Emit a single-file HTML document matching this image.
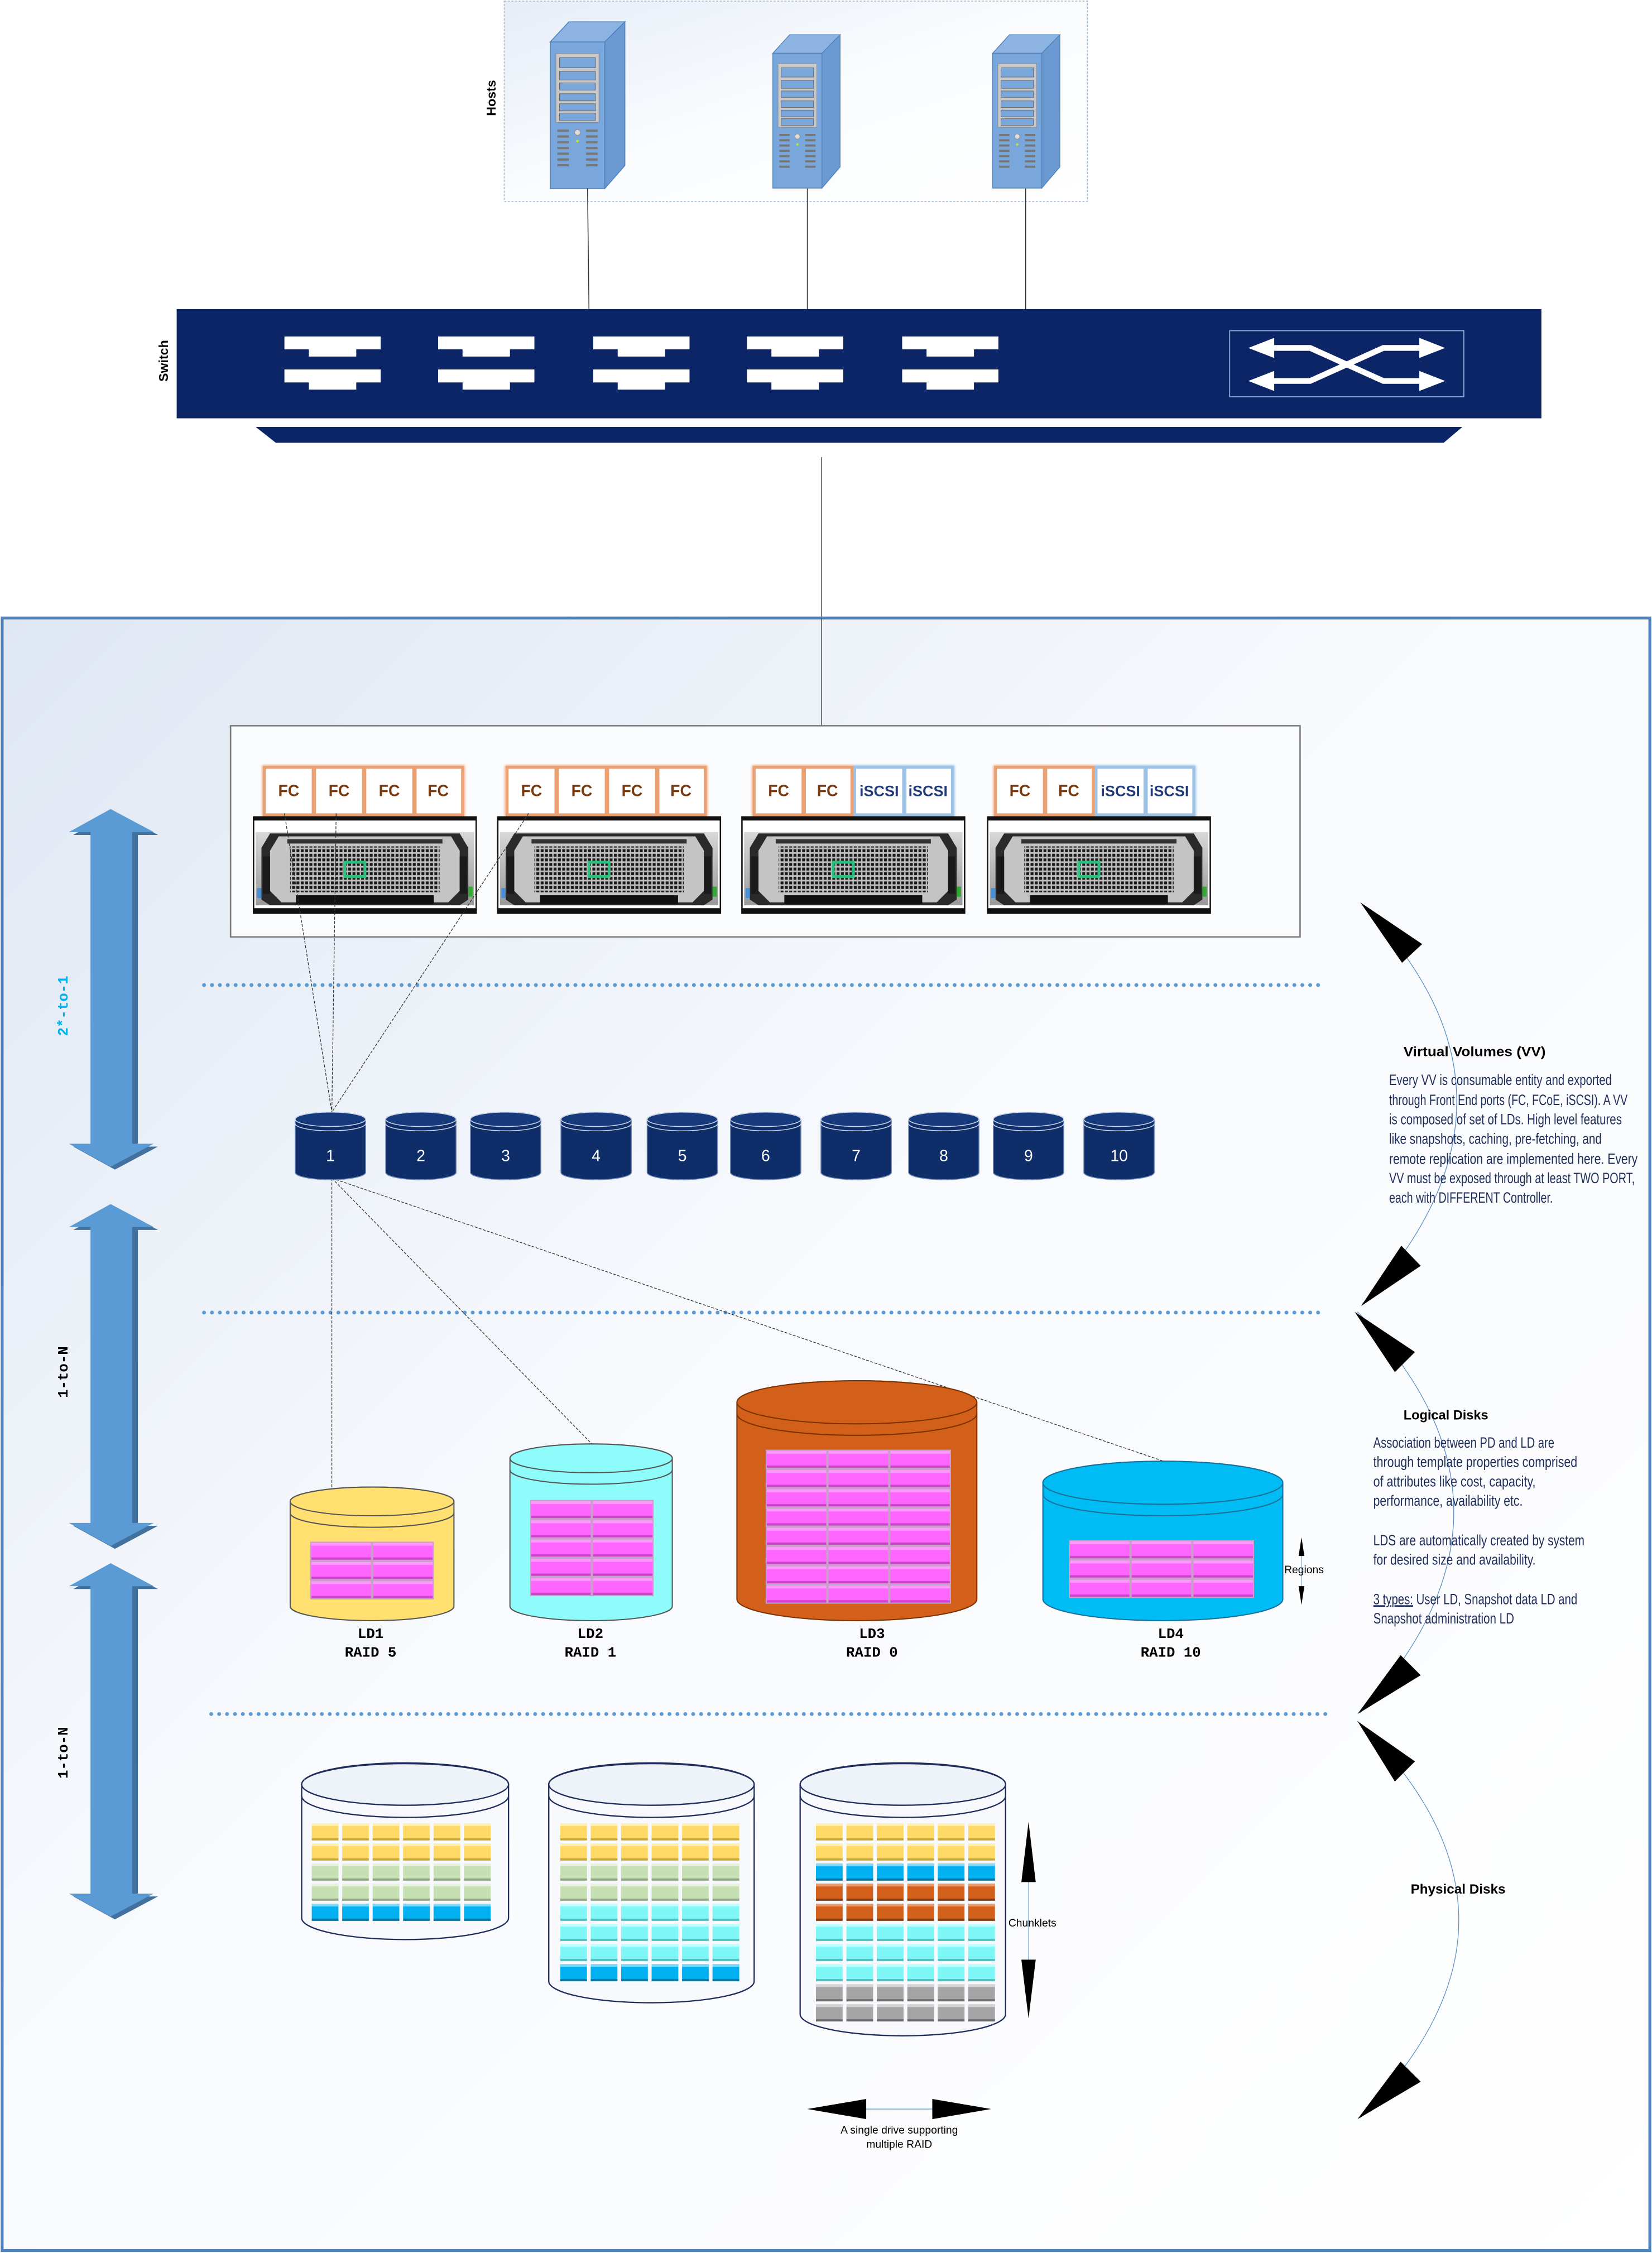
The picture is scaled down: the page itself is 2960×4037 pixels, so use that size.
<!DOCTYPE html>
<html><head><meta charset="utf-8"><style>
html,body{margin:0;padding:0;background:#fff;}
svg{display:block;}
.n{font-family:"Liberation Sans Narrow","Liberation Sans",sans-serif;}
.m{font-family:"Liberation Mono",monospace;font-weight:bold;}
.b{font-family:"Liberation Sans",sans-serif;font-weight:bold;}
</style></head><body>
<svg width="2960" height="4037" viewBox="0 0 1150 1568" xmlns="http://www.w3.org/2000/svg">
<defs>
<linearGradient id="bg" x1="0" y1="0" x2="1" y2="1"><stop offset="0" stop-color="#dfe7f3"/><stop offset="0.45" stop-color="#f8fafd"/><stop offset="1" stop-color="#ffffff"/></linearGradient>
<linearGradient id="hbg" x1="0" y1="0" x2="1" y2="1"><stop offset="0" stop-color="#e6edf7"/><stop offset="0.5" stop-color="#fafcfe"/><stop offset="1" stop-color="#fff"/></linearGradient>
<linearGradient id="metal" x1="0" y1="0" x2="0" y2="1"><stop offset="0" stop-color="#d8d8d8"/><stop offset="0.5" stop-color="#b8b8b8"/><stop offset="1" stop-color="#9a9a9a"/></linearGradient>
<pattern id="holes" patternUnits="userSpaceOnUse" width="3" height="3.2"><rect width="3" height="3.2" fill="#bdbdbd"/><rect x="0.4" y="0.6" width="2" height="2" fill="#1a1a1a"/></pattern>
<g id="tower">
<polygon points="0,14 13,0 52,0 38,14" fill="#8db3e2" stroke="#4f81bd" stroke-width="0.6"/>
<polygon points="38,14 52,0 52,100 38,116" fill="#6b9ad2" stroke="#4f81bd" stroke-width="0.6"/>
<rect x="0" y="14" width="38" height="102" fill="#79a7dc" stroke="#4f81bd" stroke-width="0.6"/>
<rect x="4" y="22" width="30" height="48" fill="#c9c9c9" stroke="#888" stroke-width="0.4"/>
<rect x="6.5" y="25" width="25" height="7" fill="#79a7dc" stroke="#666" stroke-width="0.4"/>
<rect x="6.5" y="34.5" width="25" height="6" fill="#79a7dc" stroke="#666" stroke-width="0.4"/>
<rect x="6.5" y="42.5" width="25" height="5" fill="#79a7dc" stroke="#666" stroke-width="0.4"/>
<rect x="6.5" y="50" width="25" height="5" fill="#79a7dc" stroke="#666" stroke-width="0.4"/>
<rect x="6.5" y="57" width="25" height="5" fill="#79a7dc" stroke="#666" stroke-width="0.4"/>
<rect x="6.5" y="63.5" width="25" height="5" fill="#79a7dc" stroke="#666" stroke-width="0.4"/>
<g fill="#777"><rect x="5" y="75" width="8" height="1.6"/><rect x="5" y="79" width="8" height="1.6"/><rect x="5" y="83" width="8" height="1.6"/><rect x="5" y="87" width="8" height="1.6"/><rect x="5" y="91" width="8" height="1.6"/><rect x="5" y="95" width="8" height="1.6"/><rect x="5" y="99" width="8" height="1.6"/>
<rect x="25" y="75" width="8" height="1.6"/><rect x="25" y="79" width="8" height="1.6"/><rect x="25" y="83" width="8" height="1.6"/><rect x="25" y="87" width="8" height="1.6"/><rect x="25" y="91" width="8" height="1.6"/><rect x="25" y="95" width="8" height="1.6"/><rect x="25" y="99" width="8" height="1.6"/></g>
<circle cx="19" cy="77" r="2" fill="#ddd" stroke="#888" stroke-width="0.4"/><circle cx="19" cy="83" r="1" fill="#b6e33b"/>
</g>
<g id="chassis">
<rect x="0" y="0" width="156" height="68" fill="#111"/>
<rect x="1" y="3" width="154" height="61" fill="#fff"/>
<rect x="2" y="11" width="152" height="51" fill="url(#metal)"/>
<path d="M12 12 H144 L150 22 V58 L144 62 H12 L6 58 V22 Z" fill="#2a2a2a"/>
<path d="M18 14 H138 L144 24 V52 L136 60 H20 L12 52 V24 Z" fill="#c4c4c4"/>
<rect x="24" y="16" width="108" height="3" fill="#333"/>
<rect x="26" y="21" width="104" height="32" fill="url(#holes)"/>
<rect x="64" y="32" width="14" height="10" fill="none" stroke="#2fbf7f" stroke-width="2"/>
<rect x="7" y="28" width="5" height="26" fill="#1a1a1a"/><rect x="144" y="28" width="5" height="26" fill="#1a1a1a"/>
<rect x="3" y="50" width="3" height="7" fill="#4a8fd8"/><rect x="150" y="49" width="3" height="7" fill="#3a3"/>
<rect x="30" y="55" width="96" height="6" fill="#111"/>
</g>
<g id="vvc">
<path d="M-24.5 5 A24.5 5 0 0 1 24.5 5 V42 A24.5 5 0 0 1 -24.5 42 Z" fill="#0f2d69" stroke="#6d86b3" stroke-width="0.6"/>
<ellipse cx="0" cy="5" rx="24.5" ry="5" fill="#163a7c" stroke="#c9d3e6" stroke-width="0.6"/>
<path d="M-24.5 8 A24.5 5 0 0 0 24.5 8" fill="none" stroke="#c9d3e6" stroke-width="0.6"/>
</g>
<pattern id="mag" patternUnits="userSpaceOnUse" width="43" height="13.4"><rect width="43" height="13.4" fill="#c8a0c8"/><rect x="0.8" y="0.8" width="41.4" height="11.8" fill="#ff66ff"/><rect x="0.8" y="0.8" width="41.4" height="2" fill="#ff99ff"/><rect x="0.8" y="11" width="41.4" height="1.6" fill="#cc44cc"/></pattern>
<pattern id="cy" patternUnits="userSpaceOnUse" width="21.2" height="14"><rect x="0" y="0" width="18.6" height="12" fill="#ffd966"/><rect x="0" y="0" width="18.6" height="2" fill="#fff0b0"/><rect x="0" y="10.5" width="18.6" height="1.5" fill="#c9a83a"/></pattern>
<pattern id="cg" patternUnits="userSpaceOnUse" width="21.2" height="14"><rect x="0" y="0" width="18.6" height="12" fill="#c6e0b4"/><rect x="0" y="0" width="18.6" height="2" fill="#e6f2dc"/><rect x="0" y="10.5" width="18.6" height="1.5" fill="#8fa87f"/></pattern>
<pattern id="cb" patternUnits="userSpaceOnUse" width="21.2" height="14"><rect x="0" y="0" width="18.6" height="12" fill="#00b0f0"/><rect x="0" y="0" width="18.6" height="2" fill="#7fd8f8"/><rect x="0" y="10.5" width="18.6" height="1.5" fill="#0079a8"/></pattern>
<pattern id="cc" patternUnits="userSpaceOnUse" width="21.2" height="14"><rect x="0" y="0" width="18.6" height="12" fill="#7ff7f7"/><rect x="0" y="0" width="18.6" height="2" fill="#c0ffff"/><rect x="0" y="10.5" width="18.6" height="1.5" fill="#4cc0c0"/></pattern>
<pattern id="co" patternUnits="userSpaceOnUse" width="21.2" height="14"><rect x="0" y="0" width="18.6" height="12" fill="#d2601a"/><rect x="0" y="0" width="18.6" height="2" fill="#e89a6a"/><rect x="0" y="10.5" width="18.6" height="1.5" fill="#8d3e0e"/></pattern>
<pattern id="cgr" patternUnits="userSpaceOnUse" width="21.2" height="14"><rect x="0" y="0" width="18.6" height="12" fill="#a5a5a5"/><rect x="0" y="0" width="18.6" height="2" fill="#d5d5d5"/><rect x="0" y="10.5" width="18.6" height="1.5" fill="#6e6e6e"/></pattern>
<filter id="glow" x="-20%" y="-20%" width="140%" height="140%"><feGaussianBlur stdDeviation="0.8"/></filter>
</defs>

<!-- Hosts -->
<rect x="351" y="0.5" width="406" height="139.5" fill="url(#hbg)" stroke="#9fb5d0" stroke-width="0.6" stroke-dasharray="1.5 1"/>
<text class="b" x="0" y="0" font-size="9" transform="translate(345,68) rotate(-90)" text-anchor="middle">Hosts</text>
<use href="#tower" transform="translate(383,15)"/>
<use href="#tower" transform="translate(538,24) scale(0.9,0.92)"/>
<use href="#tower" transform="translate(691,24) scale(0.9,0.92)"/>
<g stroke="#333" stroke-width="0.6"><line x1="409" y1="131" x2="410" y2="215"/><line x1="562" y1="131" x2="562" y2="215"/><line x1="714" y1="131" x2="714" y2="215"/></g>

<!-- Switch -->
<rect x="123" y="215" width="950" height="76" fill="#0c2566"/>
<polygon points="178,297 1018,297 1005,308 192,308" fill="#0c2566"/>
<text class="b" x="0" y="0" font-size="9" transform="translate(117,251) rotate(-90)" text-anchor="middle">Switch</text>
<g fill="#fff">
<path d="M198 234 H265 V243 H248 V248 H215 V243 H198 Z"/><path d="M198 257 H265 V266 H248 V271 H215 V266 H198 Z"/>
<path d="M305 234 H372 V243 H355 V248 H322 V243 H305 Z"/><path d="M305 257 H372 V266 H355 V271 H322 V266 H305 Z"/>
<path d="M413 234 H480 V243 H463 V248 H430 V243 H413 Z"/><path d="M413 257 H480 V266 H463 V271 H430 V266 H413 Z"/>
<path d="M520 234 H587 V243 H570 V248 H537 V243 H520 Z"/><path d="M520 257 H587 V266 H570 V271 H537 V266 H520 Z"/>
<path d="M628 234 H695 V243 H678 V248 H645 V243 H628 Z"/><path d="M628 257 H695 V266 H678 V271 H645 V266 H628 Z"/>
</g>
<rect x="856" y="230" width="163" height="46" fill="none" stroke="#8ea9db" stroke-width="0.7"/>
<g stroke="#fff" stroke-width="4" fill="none"><path d="M885 242 H912 L963 265 H990"/><path d="M885 265 H912 L963 242 H990"/></g>
<g fill="#fff"><polygon points="869,242 887,235 887,249"/><polygon points="869,265 887,258 887,272"/><polygon points="1006,242 988,235 988,249"/><polygon points="1006,265 988,258 988,272"/></g>
<line x1="572" y1="318" x2="572" y2="505" stroke="#444" stroke-width="0.6"/>

<!-- Big box -->
<rect x="1.5" y="430" width="1147" height="1136.5" fill="url(#bg)" stroke="#4f81bd" stroke-width="2"/>
<line x1="572" y1="430" x2="572" y2="505" stroke="#444" stroke-width="0.6"/>

<!-- Controller box -->
<rect x="160.5" y="505" width="744.5" height="147" fill="#fbfcfe" stroke="#7a7a7a" stroke-width="1"/>
<g filter="url(#glow)" fill="none" stroke-width="3">
<g stroke="#f0a878"><rect x="184" y="534" width="138" height="33"/><rect x="353" y="534" width="138" height="33"/><rect x="525" y="534" width="68" height="33"/><rect x="693" y="534" width="68" height="33"/></g>
<g stroke="#9dc3e6"><rect x="595" y="534" width="68" height="33"/><rect x="763" y="534" width="68" height="33"/></g>
</g>
<g fill="#fff" stroke-width="2">
<g stroke="#eaa070"><rect x="184" y="534" width="34" height="33"/><rect x="219" y="534" width="34" height="33"/><rect x="254" y="534" width="34" height="33"/><rect x="289" y="534" width="33" height="33"/>
<rect x="353" y="534" width="34" height="33"/><rect x="388" y="534" width="34" height="33"/><rect x="423" y="534" width="34" height="33"/><rect x="458" y="534" width="33" height="33"/>
<rect x="525" y="534" width="34" height="33"/><rect x="560" y="534" width="33" height="33"/>
<rect x="693" y="534" width="34" height="33"/><rect x="728" y="534" width="33" height="33"/></g>
<g stroke="#9dc3e6"><rect x="595" y="534" width="34" height="33"/><rect x="630" y="534" width="33" height="33"/><rect x="763" y="534" width="34" height="33"/><rect x="798" y="534" width="33" height="33"/></g>
</g>
<g class="n" font-size="11" font-weight="bold" text-anchor="middle" fill="#7a3a10">
<text x="201" y="554">FC</text><text x="236" y="554">FC</text><text x="271" y="554">FC</text><text x="305" y="554">FC</text>
<text x="370" y="554">FC</text><text x="405" y="554">FC</text><text x="440" y="554">FC</text><text x="474" y="554">FC</text>
<text x="542" y="554">FC</text><text x="576" y="554">FC</text><text x="710" y="554">FC</text><text x="744" y="554">FC</text>
</g>
<g class="n" font-size="10.5" font-weight="bold" text-anchor="middle" fill="#1f3c78">
<text x="612" y="554">iSCSI</text><text x="646" y="554">iSCSI</text><text x="780" y="554">iSCSI</text><text x="814" y="554">iSCSI</text>
</g>
<use href="#chassis" transform="translate(176,568)"/>
<use href="#chassis" transform="translate(346,568)"/>
<use href="#chassis" transform="translate(516,568)"/>
<use href="#chassis" transform="translate(687,568)"/>

<!-- dotted separators -->
<g stroke="#5b9bd5" stroke-width="2.6" stroke-linecap="round" stroke-dasharray="0.1 5.4">
<line x1="142" y1="685.5" x2="920" y2="685.5"/><line x1="142" y1="913.5" x2="920" y2="913.5"/><line x1="147" y1="1193" x2="925" y2="1193"/>
</g>

<!-- connector lines -->
<g stroke="#333" stroke-width="0.5" stroke-dasharray="2 1" fill="none">
<line x1="198" y1="566" x2="231" y2="774"/><line x1="234" y1="566" x2="231" y2="774"/><line x1="368" y1="566" x2="231" y2="774"/>
<line x1="231" y1="820" x2="231" y2="1036"/><line x1="231" y1="820" x2="412" y2="1005"/><line x1="231" y1="820" x2="810" y2="1017"/>
</g>

<!-- VV cylinders -->
<use href="#vvc" transform="translate(230,774)"/><use href="#vvc" transform="translate(293,774)"/><use href="#vvc" transform="translate(352,774)"/><use href="#vvc" transform="translate(415,774)"/><use href="#vvc" transform="translate(475,774)"/>
<use href="#vvc" transform="translate(533,774)"/><use href="#vvc" transform="translate(596,774)"/><use href="#vvc" transform="translate(657,774)"/><use href="#vvc" transform="translate(716,774)"/><use href="#vvc" transform="translate(779,774)"/>
<g class="n" font-size="11" fill="#fff" text-anchor="middle">
<text x="230" y="808">1</text><text x="293" y="808">2</text><text x="352" y="808">3</text><text x="415" y="808">4</text><text x="475" y="808">5</text>
<text x="533" y="808">6</text><text x="596" y="808">7</text><text x="657" y="808">8</text><text x="716" y="808">9</text><text x="779" y="808">10</text>
</g>

<!-- Left big arrows -->
<g>
<polygon points="80,565 110,581 96,581 96,798 110,798 80,814 51,798 66,798 66,581 51,581" fill="#41719c"/>
<polygon points="77,563 107,579 92,579 92,796 107,796 77,812 48,796 63,796 63,579 48,579" fill="#5b9bd5"/>
<polygon points="80,840 110,856 96,856 96,1062 110,1062 80,1078 51,1062 66,1062 66,856 51,856" fill="#41719c"/>
<polygon points="77,838 107,854 92,854 92,1060 107,1060 77,1076 48,1060 63,1060 63,854 48,854" fill="#5b9bd5"/>
<polygon points="80,1090 110,1106 96,1106 96,1320 110,1320 80,1336 51,1320 66,1320 66,1106 51,1106" fill="#41719c"/>
<polygon points="77,1088 107,1104 92,1104 92,1318 107,1318 77,1334 48,1318 63,1318 63,1104 48,1104" fill="#5b9bd5"/>
</g>
<text class="m" font-size="10" fill="#00b0f0" text-anchor="middle" transform="translate(47,700) rotate(-90)">2*-to-1</text>
<text class="m" font-size="10" fill="#000" text-anchor="middle" transform="translate(47,955) rotate(-90)">1-to-N</text>
<text class="m" font-size="10" fill="#000" text-anchor="middle" transform="translate(47,1220) rotate(-90)">1-to-N</text>

<!-- Logical disks -->
<g stroke="#555" stroke-width="0.8">
<path d="M202 1045 A57 10 0 0 1 316 1045 V1118 A57 10 0 0 1 202 1118 Z" fill="#ffe070"/>
<ellipse cx="259" cy="1045" rx="57" ry="10" fill="#ffe070"/><path d="M202 1053 A57 10 0 0 0 316 1053" fill="none"/>
<path d="M355 1015 A56.5 10 0 0 1 468 1015 V1118 A56.5 10 0 0 1 355 1118 Z" fill="#8ffcfc"/>
<ellipse cx="411.5" cy="1015" rx="56.5" ry="10" fill="#8ffcfc"/><path d="M355 1023 A56.5 10 0 0 0 468 1023" fill="none"/>
<path d="M513 976 A83.5 15 0 0 1 680 976 V1113 A83.5 15 0 0 1 513 1113 Z" fill="#d2601a" stroke="#7a3200"/>
<ellipse cx="596.5" cy="976" rx="83.5" ry="15" fill="#d2601a" stroke="#7a3200"/><path d="M513 984 A83.5 15 0 0 0 680 984" fill="none" stroke="#7a3200"/>
<path d="M726 1032 A83.5 15 0 0 1 893 1032 V1113 A83.5 15 0 0 1 726 1113 Z" fill="#00bcf4" stroke="#1a6f9a"/>
<ellipse cx="809.5" cy="1032" rx="83.5" ry="15" fill="#00bcf4" stroke="#1a6f9a"/><path d="M726 1040 A83.5 15 0 0 0 893 1040" fill="none" stroke="#1a6f9a"/>
</g>
<g transform="translate(216,1073)"><rect width="86" height="40.2" fill="url(#mag)"/></g>
<g transform="translate(369,1044)"><rect width="86" height="67" fill="url(#mag)"/></g>
<g transform="translate(533,1009)"><rect width="129" height="107.2" fill="url(#mag)"/></g>
<g transform="translate(744,1072)"><rect width="129" height="40.2" fill="url(#mag)"/></g>
<g class="m" font-size="10" text-anchor="middle" fill="#000">
<text x="258" y="1140">LD1</text><text x="258" y="1153">RAID 5</text>
<text x="411" y="1140">LD2</text><text x="411" y="1153">RAID 1</text>
<text x="607" y="1140">LD3</text><text x="607" y="1153">RAID 0</text>
<text x="815" y="1140">LD4</text><text x="815" y="1153">RAID 10</text>
</g>
<line x1="906" y1="1075" x2="906" y2="1112" stroke="#5b9bd5" stroke-width="0.4"/>
<polygon points="906,1070 904,1083 908,1083" fill="#000"/><polygon points="906,1117 904,1104 908,1104" fill="#000"/>
<text class="n" font-size="7.5" x="894" y="1095">Regions</text>

<!-- Physical disks -->
<g stroke="#1f2d5a" stroke-width="0.9" fill="#f7f9fd">
<path d="M210 1242 A72 15 0 0 1 354 1242 V1335 A72 15 0 0 1 210 1335 Z"/>
<ellipse cx="282" cy="1242" rx="72" ry="14.5" fill="#eef2f9"/><path d="M210 1250 A72 15 0 0 0 354 1250" fill="none"/>
<path d="M382 1242 A71.5 15 0 0 1 525 1242 V1379 A71.5 15 0 0 1 382 1379 Z"/>
<ellipse cx="453.5" cy="1242" rx="71.5" ry="14.5" fill="#eef2f9"/><path d="M382 1250 A71.5 15 0 0 0 525 1250" fill="none"/>
<path d="M557 1242 A71.5 15 0 0 1 700 1242 V1402 A71.5 15 0 0 1 557 1402 Z"/>
<ellipse cx="628.5" cy="1242" rx="71.5" ry="14.5" fill="#eef2f9"/><path d="M557 1250 A71.5 15 0 0 0 700 1250" fill="none"/>
</g>
<g transform="translate(217,1269)">
<rect y="0" width="125" height="28" fill="url(#cy)"/><rect y="28" width="125" height="28" fill="url(#cg)"/><rect y="56" width="125" height="14" fill="url(#cb)"/>
</g>
<g transform="translate(390,1269)">
<rect y="0" width="125" height="28" fill="url(#cy)"/><rect y="28" width="125" height="28" fill="url(#cg)"/><rect y="56" width="125" height="42" fill="url(#cc)"/><rect y="98" width="125" height="14" fill="url(#cb)"/>
</g>
<g transform="translate(568,1269)">
<rect y="0" width="125" height="28" fill="url(#cy)"/><rect y="28" width="125" height="14" fill="url(#cb)"/><rect y="42" width="125" height="28" fill="url(#co)"/><rect y="70" width="125" height="42" fill="url(#cc)"/><rect y="112" width="125" height="28" fill="url(#cgr)"/>
</g>
<line x1="716" y1="1280" x2="716" y2="1400" stroke="#5b9bd5" stroke-width="0.4"/>
<polygon points="716,1268 711,1310 721,1310" fill="#000"/><polygon points="716,1405 711,1364 721,1364" fill="#000"/>
<text class="n" font-size="7.5" x="702" y="1341">Chunklets</text>
<line x1="580" y1="1468" x2="675" y2="1468" stroke="#5b9bd5" stroke-width="0.5"/>
<polygon points="562,1468 603,1461 603,1475" fill="#000"/><polygon points="690,1468 649,1461 649,1475" fill="#000"/>
<g class="n" font-size="7.5" text-anchor="middle"><text x="626" y="1485">A single drive supporting</text><text x="626" y="1495">multiple RAID</text></g>

<!-- Right side curves and arrows -->
<g fill="none" stroke="#5b8fc7" stroke-width="0.5">
<path d="M958 640 Q 1075 770 948 908"/><path d="M945 913 Q 1078 1050 947 1192"/><path d="M945 1198 Q 1085 1335 947 1474"/>
</g>
<g fill="#000">
<polygon points="947,628 990,657 976,670"/>
<polygon points="947.5,909 975.5,867 989,881"/>
<polygon points="943,913 985,941 971,955"/>
<polygon points="945,1193 975,1152 989,1166"/>
<polygon points="945,1198 985,1226 971,1240"/>
<polygon points="945,1475 975,1435 989,1449"/>
</g>
<text class="b" font-size="9.5" x="977" y="735" textLength="99" lengthAdjust="spacingAndGlyphs">Virtual Volumes (VV)</text>
<g class="n" font-size="10.5" fill="#1f2d5a">
<text x="967" y="755" textLength="155" lengthAdjust="spacingAndGlyphs">Every VV is consumable entity and exported</text>
<text x="967" y="769" textLength="166" lengthAdjust="spacingAndGlyphs">through Front End ports (FC, FCoE, iSCSI). A VV</text>
<text x="967" y="782.5" textLength="162" lengthAdjust="spacingAndGlyphs">is composed of set of LDs. High level features</text>
<text x="967" y="796" textLength="148" lengthAdjust="spacingAndGlyphs">like snapshots, caching, pre-fetching, and</text>
<text x="967" y="810" textLength="173" lengthAdjust="spacingAndGlyphs">remote replication  are implemented here. Every</text>
<text x="967" y="823.5" textLength="171" lengthAdjust="spacingAndGlyphs">VV must be exposed through at least TWO PORT,</text>
<text x="967" y="837" textLength="114" lengthAdjust="spacingAndGlyphs">each with DIFFERENT Controller.</text>
</g>
<text class="b" font-size="9.5" x="977" y="988" textLength="59" lengthAdjust="spacingAndGlyphs">Logical Disks</text>
<g class="n" font-size="10.5" fill="#1f2d5a">
<text x="956" y="1007.5" textLength="126" lengthAdjust="spacingAndGlyphs">Association between PD and LD are</text>
<text x="956" y="1021" textLength="142" lengthAdjust="spacingAndGlyphs">through template properties comprised</text>
<text x="956" y="1034.5" textLength="113" lengthAdjust="spacingAndGlyphs">of attributes like cost, capacity,</text>
<text x="956" y="1048" textLength="104" lengthAdjust="spacingAndGlyphs">performance, availability etc.</text>
<text x="956" y="1075.5" textLength="147" lengthAdjust="spacingAndGlyphs">LDS are automatically created by system</text>
<text x="956" y="1089" textLength="113" lengthAdjust="spacingAndGlyphs">for desired size and availability.</text>
<text x="956" y="1116.5" textLength="142" lengthAdjust="spacingAndGlyphs"><tspan text-decoration="underline">3 types:</tspan>  User LD, Snapshot data LD and</text>
<text x="956" y="1130" textLength="98" lengthAdjust="spacingAndGlyphs">Snapshot administration LD</text>
</g>
<text class="b" font-size="9.5" x="982" y="1318" textLength="66" lengthAdjust="spacingAndGlyphs">Physical Disks</text>
</svg>
</body></html>
